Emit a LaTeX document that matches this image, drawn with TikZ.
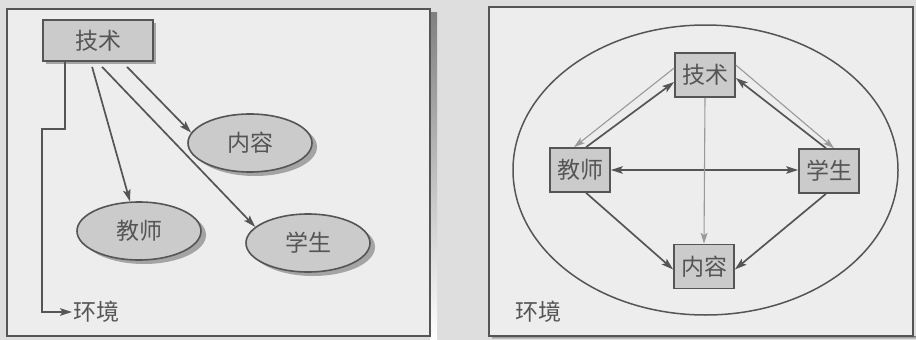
\documentclass[tikz,border=0pt]{standalone}
\usepackage{fontspec}
\newfontfamily\cjk{Noto Sans CJK SC}
\usetikzlibrary{shapes.geometric,arrows.meta,shadows}
\definecolor{pageout}{HTML}{DEDEDE}
\definecolor{panelbg}{HTML}{EDEDED}
\definecolor{boxfill}{HTML}{CBCBCB}
\definecolor{ink}{HTML}{555555}
\definecolor{lightink}{HTML}{9A9A9A}
\definecolor{shade}{HTML}{A4A4A4}
\begin{document}
\begin{tikzpicture}[x=1pt,y=-1pt,
  every node/.style={font=\cjk\fontsize{23pt}{25pt}\selectfont, text=ink},
  panel/.style={draw=ink, line width=1.5pt, fill=panelbg},
  techbox/.style={draw=ink, line width=1.8pt, fill=boxfill, minimum width=110pt, minimum height=41pt,
    drop shadow={shadow xshift=3pt, shadow yshift=-3pt, fill=shade, opacity=1}},
  oval/.style={ellipse, draw=ink, line width=1.6pt, fill=boxfill, minimum width=124pt, minimum height=58pt, inner sep=0pt,
    drop shadow={shadow xshift=5pt, shadow yshift=-4pt, fill=shade, opacity=1}},
  sqbox/.style={draw=ink, line width=1.6pt, fill=boxfill, minimum width=60pt, minimum height=44pt, inner sep=0pt},
  arr/.style={draw=ink, line width=1.7pt, -{Stealth[length=12pt,width=7.5pt,inset=2.5pt]}},
  larr/.style={draw=lightink, line width=1.1pt, -{Stealth[length=11pt,width=7pt,inset=2.5pt]}},
  dblarr/.style={draw=ink, line width=1.7pt, {Stealth[length=12pt,width=7.5pt,inset=2.5pt]}-{Stealth[length=12pt,width=7.5pt,inset=2.5pt]}}]
\fill[pageout] (0,0) rectangle (916,340);
\useasboundingbox (0,0) rectangle (916,340);
% ---------- left panel ----------
\fill[shade] (430,12) rectangle (437,339);
\path[panel] (7,9) rectangle (430,336);
\node[techbox] (lt) at (98,40.5) {技术};
\node[oval] (lcon) at (250,143) {内容};
\node[oval] (ltea) at (139,231) {教师};
\node[oval] (lstu) at (308,243) {学生};
\node[anchor=west, inner sep=1pt] (lenv) at (72,312) {环境};
\draw[arr] ([xshift=50pt,yshift=-5pt]lt.south west) -- (ltea.107);
\draw[arr] ([xshift=60pt,yshift=-5pt]lt.south west) -- (lstu.163);
\draw[arr] ([xshift=85pt,yshift=-5pt]lt.south west) -- (lcon.170);
\draw[arr] ([xshift=23pt]lt.south west) -- ++(0,67) -- ++(-23,0) |- (lenv.west);
% ---------- right panel ----------
\fill[shade] (492,336) rectangle (916,340);
\path[panel] (489,7) rectangle (913,336);
\node[ellipse, draw=ink, line width=1.5pt, minimum width=385pt, minimum height=290pt] (renv) at (705.5,170) {};
\node[sqbox] (rt) at (705,75) {技术};
\node[sqbox] (rtea) at (580,170) {教师};
\node[sqbox] (rstu) at (829,171) {学生};
\node[sqbox] (rcon) at (704,266.5) {内容};
\node (rlab) at (538,312) {环境};
\draw[larr] ([yshift=7pt]rt.west) -- ([xshift=-6pt]rtea.north);
\draw[arr] ([xshift=6pt]rtea.north) -- ([yshift=-7pt]rt.west);
\draw[arr] ([xshift=-3pt]rstu.north) -- ([yshift=-3pt]rt.east);
\draw[larr] ([yshift=10pt]rt.east) -- ([xshift=5pt]rstu.north);
\draw[dblarr] (rtea.east) -- (rtea.east -| rstu.west);
\draw[larr] (rt.south) -- (rcon.north);
\draw[arr] ([xshift=6pt]rtea.south) -- ([yshift=-3pt]rcon.west);
\draw[arr] ([xshift=-3pt]rstu.south) -- ([yshift=-3pt]rcon.east);
\end{tikzpicture}
\end{document}
